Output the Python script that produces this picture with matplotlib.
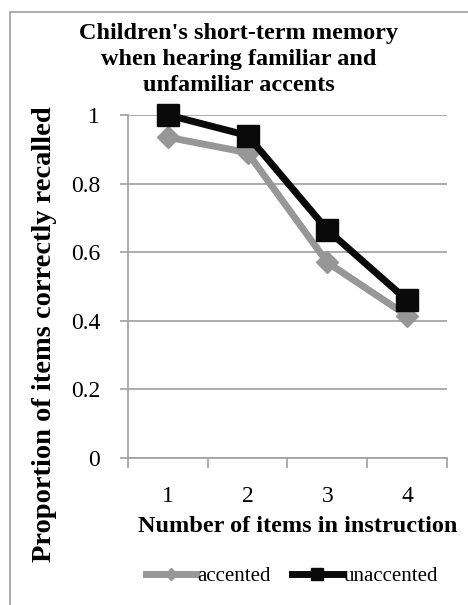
import matplotlib
matplotlib.use("Agg")
from matplotlib import pyplot as plt
from matplotlib.patches import Rectangle

# data
items = [1, 2, 3, 4]
accented = [0.935, 0.89, 0.57, 0.415]
unaccented = [1.0, 0.94, 0.665, 0.46]
y_ticks = [0, 0.2, 0.4, 0.6, 0.8, 1]
y_tick_labels = ["0", "0.2", "0.4", "0.6", "0.8", "1"]

plt.rcParams['font.family'] = ['Liberation Serif', 'DejaVu Serif']

fig = plt.figure(figsize=(4.68, 6.05), dpi=100)
ax = fig.add_axes([0.2735, 0.243, 0.955 - 0.2735, 0.81 - 0.243])

# outer chart border (only left and top visible in the crop)
fig.patches.append(Rectangle((10 / 468, -0.01), 1.0, 1 - 12 / 605 + 0.01,
                             transform=fig.transFigure, fill=False,
                             edgecolor='#a0a0a0', linewidth=1.2))

ax.plot(items, accented, color='#979797', linewidth=5, marker='D',
        markersize=11, label='accented', clip_on=False, zorder=3)
ax.plot(items, unaccented, color='#0a0a0a', linewidth=5, marker='s',
        markersize=16, label='unaccented', clip_on=False, zorder=4)

ax.set_xlim(0.5, 4.5)
ax.set_ylim(0, 1)
ax.set_yticks(y_ticks)
ax.set_yticklabels(y_tick_labels)
ax.set_xticks(items)
ax.set_xticks([0.5, 1.5, 2.5, 3.5, 4.5], minor=True)
ax.tick_params(axis='x', which='major', length=0, pad=20, labelsize=17)
ax.tick_params(axis='x', which='minor', length=7, color='#a0a0a0', width=1.2)
ax.tick_params(axis='y', length=6, color='#a0a0a0', width=1.2, pad=14,
               labelsize=17)
ax.grid(axis='y', color='#a6a6a6', linewidth=1.3)
ax.set_axisbelow(True)
for side in ['top', 'right']:
  ax.spines[side].set_visible(False)
for side in ['left', 'bottom']:
  ax.spines[side].set_color('#a0a0a0')
  ax.spines[side].set_linewidth(1.2)

ax.set_xlabel("Number of items in instruction", fontsize=17.5,
              fontweight='bold')
ax.xaxis.set_label_coords(0.533, -0.17)
ax.set_ylabel("Proportion of items correctly recalled", fontsize=20.5,
              fontweight='bold')
ax.yaxis.set_label_coords(-0.222, 0.36)

fig.text(0.51, 0.962, "Children's short-term memory\n"
         "when hearing familiar and\nunfamiliar accents",
         ha='center', va='top', fontsize=17.5, fontweight='bold',
         linespacing=1.3)

fig.legend(loc='center', bbox_to_anchor=(0.624, 0.047), ncol=2, frameon=False,
           fontsize=15, handlelength=2.4, handletextpad=0.1,
           columnspacing=1.0, markerscale=0.55)

fig.savefig("out.png", dpi=100)
